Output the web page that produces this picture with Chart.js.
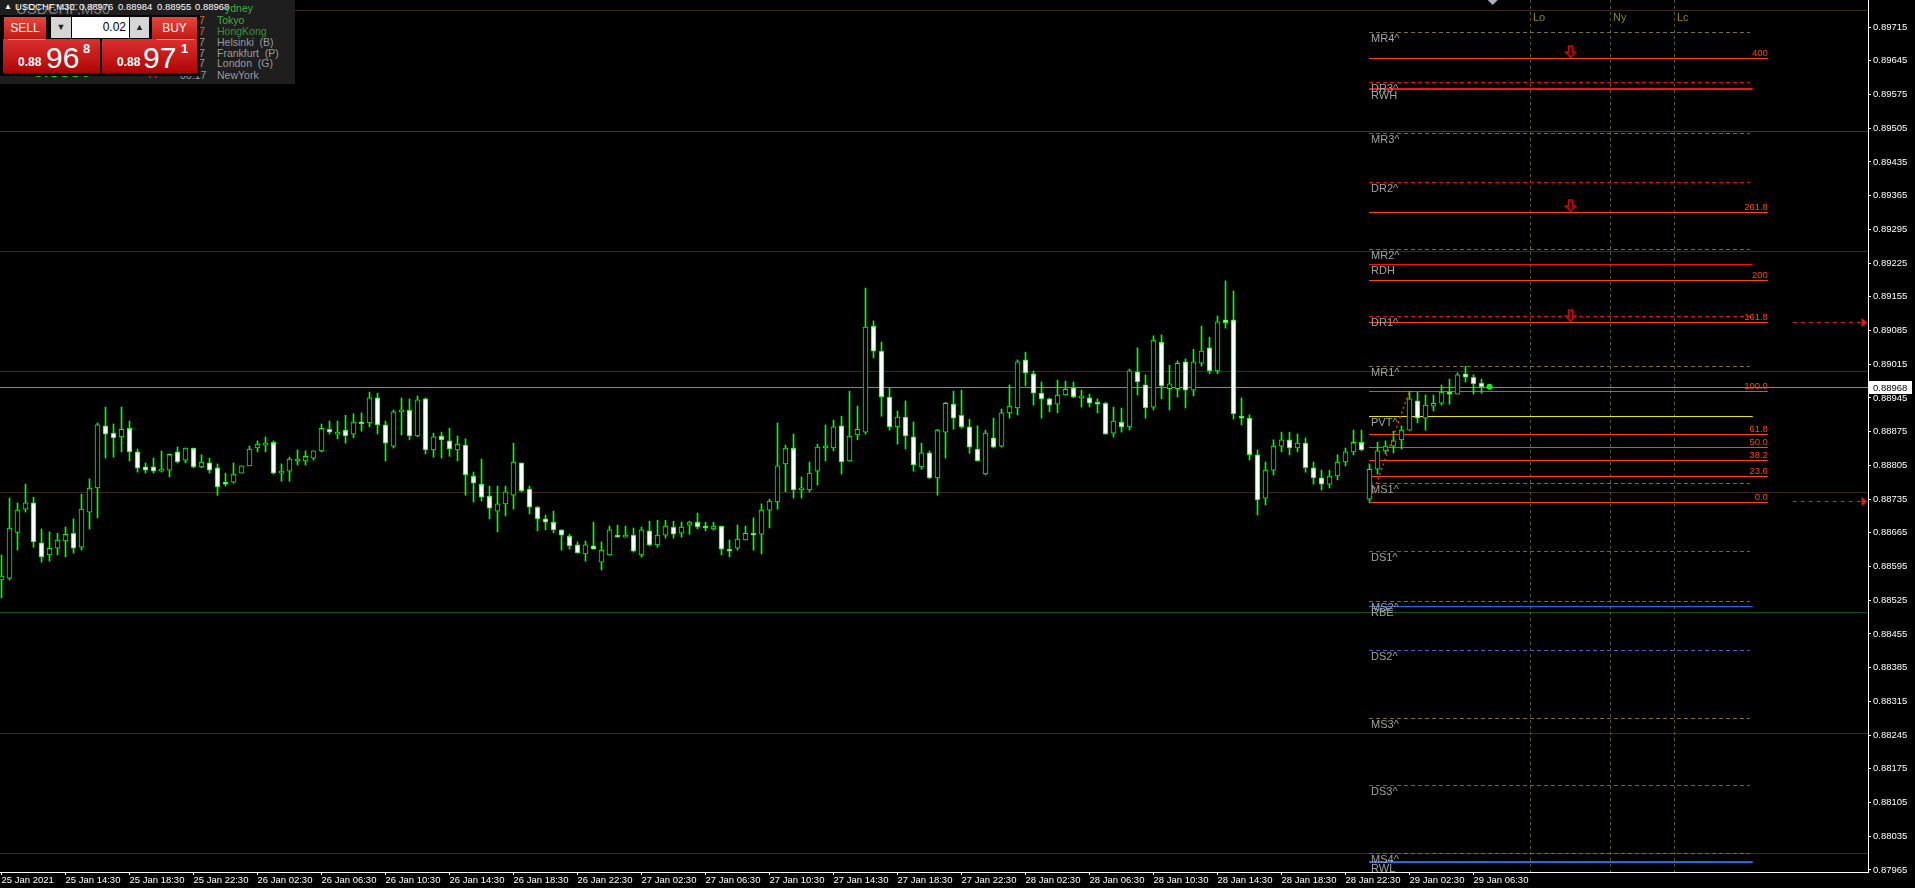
<!DOCTYPE html>
<html>
<head>
<meta charset="utf-8">
<title>USDCHF,M30</title>
<script src="https://cdn.jsdelivr.net/npm/chart.js@4.4.0/dist/chart.umd.min.js"></script>
<style>
  html, body { margin: 0; padding: 0; background: #000; overflow: hidden; }
  #wrap { position: relative; width: 1915px; height: 888px; font-family: "Liberation Sans", Arial, sans-serif; }
  #chart { position: absolute; left: 0; top: 0; }
  #panel { position: absolute; left: 0; top: 0; width: 295px; height: 84px; background: #1e1e1e; overflow: hidden; }
  .abs { position: absolute; white-space: nowrap; }
  .sess { font-size: 10.5px; color: #9a9a9a; }
  .red { background: linear-gradient(#e8453c, #c01a16); color: #fff; }
  .big { background: linear-gradient(#dc3030, #ad0505); }
  .btn { font-size: 12px; text-align: center; line-height: 22px; }
  .spin { background: #d6d6d6; font-size: 9px; text-align: center; line-height: 21px; color: #222; }
</style>
</head>
<body>
<div id="wrap">
  <canvas id="chart" width="1915" height="888"></canvas>
  <div id="panel">
    <div class="abs" style="left:16px;top:0px;font-size:15px;color:#7a7a7a;">USDCHF,M30</div>
    <div class="abs" style="left:4px;top:2px;font-size:8px;color:#fff;">▲</div>
    <div class="abs" style="left:15px;top:1px;font-size:9.5px;color:#fff;">USDCHF,M30</div>
    <div class="abs" style="left:79px;top:1px;font-size:9.5px;color:#fff;">0.88976</div>
    <div class="abs" style="left:118px;top:1px;font-size:9.5px;color:#fff;">0.88984</div>
    <div class="abs" style="left:157px;top:1px;font-size:9.5px;color:#fff;">0.88955</div>
    <div class="abs" style="left:195px;top:1px;font-size:9.5px;color:#fff;">0.88968</div>

    <div class="abs sess" style="left:225px;top:2px;color:#3cae3c;">ydney</div>
    <div class="abs sess" style="left:217px;top:14px;color:#3cae3c;">Tokyo</div>
    <div class="abs sess" style="left:217px;top:25px;color:#2e9a2e;">HongKong</div>
    <div class="abs sess" style="left:217px;top:36px;">Helsinki&nbsp; (B)</div>
    <div class="abs sess" style="left:217px;top:47px;">Frankfurt&nbsp; (P)</div>
    <div class="abs sess" style="left:217px;top:57px;">London&nbsp; (G)</div>
    <div class="abs sess" style="left:217px;top:69px;">NewYork</div>
    <div class="abs sess" style="left:199px;top:14px;color:#c0702a;">7</div>
    <div class="abs sess" style="left:199px;top:25px;color:#c0702a;">7</div>
    <div class="abs sess" style="left:199px;top:36px;">7</div>
    <div class="abs sess" style="left:199px;top:47px;">7</div>
    <div class="abs sess" style="left:199px;top:57px;">7</div>
    <div class="abs sess" style="left:180px;top:69px;">00:17</div>
    <div class="abs" style="left:148px;top:66px;font-size:13px;color:#e02020;">R</div>
    <div class="abs" style="left:33px;top:60px;font-size:19px;color:#22c822;">0.8880</div>

    <div class="abs" style="left:0;top:15px;width:200px;height:61px;background:#050505;"></div>
    <div class="abs red btn" style="left:4px;top:17px;width:42px;height:22px;">SELL</div>
    <div class="abs spin" style="left:51px;top:17px;width:20px;height:21px;">▼</div>
    <div class="abs" style="left:72px;top:17px;width:54px;height:21px;background:#fff;color:#000;font-size:12px;line-height:21px;text-align:right;padding-right:3px;">0.02</div>
    <div class="abs spin" style="left:130px;top:17px;width:19px;height:21px;">▲</div>
    <div class="abs red btn" style="left:152px;top:17px;width:45px;height:22px;">BUY</div>
    <div class="abs big" style="left:3px;top:39px;width:97px;height:34px;"></div>
    <div class="abs big" style="left:102px;top:39px;width:95px;height:34px;"></div>
    <div class="abs" style="left:8px;top:39px;width:37px;height:1px;background:#f0a0a0;"></div>
    <div class="abs" style="left:157px;top:39px;width:37px;height:1px;background:#f0a0a0;"></div>
    <div class="abs" style="left:18px;top:55px;font-size:12px;font-weight:bold;color:#fff;">0.88</div>
    <div class="abs" style="left:46px;top:41px;font-size:30px;color:#fff;">96</div>
    <div class="abs" style="left:83px;top:41px;font-size:13px;font-weight:bold;color:#fff;">8</div>
    <div class="abs" style="left:117px;top:55px;font-size:12px;font-weight:bold;color:#fff;">0.88</div>
    <div class="abs" style="left:143px;top:41px;font-size:30px;color:#fff;">97</div>
    <div class="abs" style="left:181px;top:41px;font-size:13px;font-weight:bold;color:#fff;">1</div>
  </div>
</div>
<script>
// USDCHF M30 candles, bar 0 = 25 Jan 10:30, one bar every 30 minutes
const timeLabels = ["25 Jan 2021", "25 Jan 14:30", "25 Jan 18:30", "25 Jan 22:30", "26 Jan 02:30", "26 Jan 06:30",
  "26 Jan 10:30", "26 Jan 14:30", "26 Jan 18:30", "26 Jan 22:30", "27 Jan 02:30", "27 Jan 06:30",
  "27 Jan 10:30", "27 Jan 14:30", "27 Jan 18:30", "27 Jan 22:30", "28 Jan 02:30", "28 Jan 06:30",
  "28 Jan 10:30", "28 Jan 14:30", "28 Jan 18:30", "28 Jan 22:30", "29 Jan 02:30", "29 Jan 06:30"];
const timeTicks = [0, 8, 16, 24, 32, 40, 48, 56, 64, 72, 80, 88, 96, 104, 112, 120, 128, 136, 144, 152, 160, 168, 176, 184];

const priceTicks = [0.87965, 0.88035, 0.88105, 0.88175, 0.88245, 0.88315, 0.88385, 0.88455, 0.88525,
  0.88595, 0.88665, 0.88735, 0.88805, 0.88875, 0.88945, 0.89015, 0.89085, 0.89155, 0.89225,
  0.89295, 0.89365, 0.89435, 0.89505, 0.89575, 0.89645, 0.89715];

const opens = [
  0.88567, 0.88571, 0.88666, 0.88714, 0.88727, 0.88644, 0.88619, 0.88633, 0.88648, 0.88664,
  0.88635, 0.88708, 0.88758, 0.88887, 0.88872, 0.88864, 0.88882, 0.88833, 0.88802, 0.88802,
  0.88793, 0.88795, 0.88833, 0.88816, 0.88841, 0.88802, 0.88810, 0.88800, 0.88770, 0.88770,
  0.88789, 0.88804, 0.88841, 0.88847, 0.88853, 0.88789, 0.88793, 0.88814, 0.88814, 0.88820,
  0.88835, 0.88880, 0.88870, 0.88878, 0.88870, 0.88895, 0.88893, 0.88945, 0.88889, 0.88845,
  0.88916, 0.88920, 0.88866, 0.88943, 0.88837, 0.88866, 0.88856, 0.88837, 0.88847, 0.88783,
  0.88766, 0.88741, 0.88710, 0.88725, 0.88743, 0.88810, 0.88756, 0.88718, 0.88694, 0.88687,
  0.88671, 0.88658, 0.88640, 0.88621, 0.88638, 0.88604, 0.88619, 0.88658, 0.88656, 0.88660,
  0.88619, 0.88669, 0.88640, 0.88660, 0.88677, 0.88664, 0.88681, 0.88687, 0.88679, 0.88673,
  0.88679, 0.88629, 0.88633, 0.88650, 0.88664, 0.88662, 0.88712, 0.88729, 0.88808, 0.88841,
  0.88754, 0.88754, 0.88793, 0.88841, 0.88841, 0.88887, 0.88814, 0.88868, 0.88874, 0.89094,
  0.89042, 0.88947, 0.88885, 0.88905, 0.88864, 0.88802, 0.88831, 0.88779, 0.88874, 0.88932,
  0.88909, 0.88885, 0.88839, 0.88787, 0.88862, 0.88845, 0.88914, 0.88924, 0.89024, 0.88995,
  0.88955, 0.88943, 0.88932, 0.88951, 0.88966, 0.88945, 0.88945, 0.88936, 0.88934, 0.88872,
  0.88895, 0.88885, 0.88999, 0.88972, 0.88926, 0.89061, 0.88964, 0.88964, 0.89020, 0.88961,
  0.89017, 0.89049, 0.89001, 0.89107, 0.89107, 0.88907, 0.88903, 0.88827, 0.88737, 0.88795,
  0.88845, 0.88858, 0.88841, 0.88851, 0.88800, 0.88779, 0.88766, 0.88783, 0.88812, 0.88833,
  0.88853, 0.88735, 0.88797, 0.88835, 0.88845, 0.88858, 0.88878, 0.88939, 0.88903, 0.88928,
  0.88934, 0.88957, 0.88953, 0.88995, 0.88988, 0.88976];
const highs = [
  0.88619, 0.88737, 0.88727, 0.88766, 0.88739, 0.88673, 0.88667, 0.88664, 0.88677, 0.88694,
  0.88745, 0.88777, 0.88893, 0.88926, 0.88891, 0.88926, 0.88897, 0.88839, 0.88810, 0.88820,
  0.88835, 0.88829, 0.88843, 0.88841, 0.88841, 0.88827, 0.88820, 0.88808, 0.88789, 0.88810,
  0.88804, 0.88845, 0.88856, 0.88864, 0.88856, 0.88808, 0.88822, 0.88837, 0.88835, 0.88835,
  0.88891, 0.88897, 0.88897, 0.88909, 0.88912, 0.88914, 0.88957, 0.88955, 0.88897, 0.88920,
  0.88945, 0.88943, 0.88949, 0.88945, 0.88872, 0.88874, 0.88882, 0.88866, 0.88860, 0.88791,
  0.88818, 0.88762, 0.88762, 0.88762, 0.88851, 0.88810, 0.88762, 0.88720, 0.88702, 0.88710,
  0.88671, 0.88662, 0.88646, 0.88648, 0.88687, 0.88646, 0.88679, 0.88681, 0.88679, 0.88675,
  0.88677, 0.88689, 0.88691, 0.88691, 0.88689, 0.88687, 0.88689, 0.88706, 0.88687, 0.88687,
  0.88679, 0.88650, 0.88681, 0.88679, 0.88696, 0.88725, 0.88735, 0.88893, 0.88847, 0.88870,
  0.88781, 0.88812, 0.88849, 0.88889, 0.88899, 0.88907, 0.88959, 0.88928, 0.89173, 0.89105,
  0.89061, 0.88966, 0.88918, 0.88939, 0.88895, 0.88851, 0.88835, 0.88880, 0.88936, 0.88959,
  0.88961, 0.88901, 0.88887, 0.88878, 0.88903, 0.88922, 0.88972, 0.89024, 0.89040, 0.89001,
  0.88978, 0.88945, 0.88982, 0.88980, 0.88978, 0.88961, 0.88953, 0.88943, 0.88936, 0.88926,
  0.88924, 0.89005, 0.89049, 0.88993, 0.89074, 0.89076, 0.89013, 0.89022, 0.89026, 0.89046,
  0.89094, 0.89071, 0.89115, 0.89188, 0.89167, 0.88945, 0.88910, 0.88837, 0.88812, 0.88858,
  0.88874, 0.88874, 0.88870, 0.88862, 0.88812, 0.88795, 0.88795, 0.88827, 0.88841, 0.88878,
  0.88878, 0.88808, 0.88853, 0.88856, 0.88876, 0.88887, 0.88959, 0.88957, 0.88951, 0.88951,
  0.88972, 0.88984, 0.88997, 0.89011, 0.88993, 0.88984];
const lows = [
  0.88530, 0.88567, 0.88629, 0.88708, 0.88635, 0.88604, 0.88606, 0.88619, 0.88615, 0.88623,
  0.88629, 0.88673, 0.88696, 0.88820, 0.88822, 0.88833, 0.88814, 0.88791, 0.88789, 0.88789,
  0.88791, 0.88781, 0.88810, 0.88810, 0.88800, 0.88800, 0.88789, 0.88743, 0.88762, 0.88768,
  0.88789, 0.88804, 0.88833, 0.88833, 0.88787, 0.88772, 0.88772, 0.88806, 0.88806, 0.88816,
  0.88833, 0.88870, 0.88860, 0.88851, 0.88862, 0.88876, 0.88885, 0.88870, 0.88814, 0.88841,
  0.88868, 0.88858, 0.88864, 0.88829, 0.88822, 0.88820, 0.88824, 0.88814, 0.88743, 0.88729,
  0.88731, 0.88694, 0.88667, 0.88700, 0.88714, 0.88750, 0.88704, 0.88669, 0.88671, 0.88665,
  0.88629, 0.88631, 0.88623, 0.88606, 0.88631, 0.88588, 0.88619, 0.88656, 0.88656, 0.88625,
  0.88615, 0.88638, 0.88635, 0.88654, 0.88654, 0.88656, 0.88662, 0.88673, 0.88669, 0.88671,
  0.88619, 0.88615, 0.88629, 0.88650, 0.88629, 0.88621, 0.88675, 0.88714, 0.88750, 0.88737,
  0.88737, 0.88750, 0.88764, 0.88814, 0.88835, 0.88787, 0.88814, 0.88858, 0.88870, 0.89028,
  0.88907, 0.88878, 0.88849, 0.88839, 0.88793, 0.88797, 0.88777, 0.88743, 0.88820, 0.88880,
  0.88882, 0.88830, 0.88814, 0.88785, 0.88841, 0.88843, 0.88903, 0.88910, 0.88970, 0.88930,
  0.88903, 0.88916, 0.88914, 0.88951, 0.88945, 0.88926, 0.88926, 0.88914, 0.88870, 0.88864,
  0.88874, 0.88878, 0.88951, 0.88903, 0.88920, 0.88943, 0.88920, 0.88947, 0.88924, 0.88949,
  0.89011, 0.88995, 0.88995, 0.89090, 0.88901, 0.88889, 0.88816, 0.88702, 0.88723, 0.88785,
  0.88833, 0.88827, 0.88833, 0.88791, 0.88766, 0.88754, 0.88758, 0.88775, 0.88804, 0.88827,
  0.88835, 0.88727, 0.88787, 0.88829, 0.88831, 0.88839, 0.88878, 0.88893, 0.88878, 0.88918,
  0.88930, 0.88932, 0.88953, 0.88978, 0.88953, 0.88955];
const closes = [
  0.88575, 0.88675, 0.88712, 0.88727, 0.88646, 0.88615, 0.88633, 0.88650, 0.88662, 0.88633,
  0.88714, 0.88758, 0.88889, 0.88870, 0.88862, 0.88880, 0.88833, 0.88799, 0.88795, 0.88793,
  0.88795, 0.88828, 0.88812, 0.88841, 0.88802, 0.88812, 0.88795, 0.88760, 0.88766, 0.88787,
  0.88804, 0.88839, 0.88849, 0.88851, 0.88789, 0.88793, 0.88818, 0.88818, 0.88824, 0.88835,
  0.88882, 0.88874, 0.88874, 0.88866, 0.88895, 0.88891, 0.88945, 0.88889, 0.88851, 0.88916,
  0.88918, 0.88866, 0.88941, 0.88837, 0.88864, 0.88858, 0.88839, 0.88849, 0.88785, 0.88768,
  0.88739, 0.88716, 0.88725, 0.88750, 0.88812, 0.88752, 0.88718, 0.88694, 0.88687, 0.88671,
  0.88660, 0.88638, 0.88623, 0.88640, 0.88631, 0.88629, 0.88671, 0.88656, 0.88660, 0.88627,
  0.88671, 0.88640, 0.88660, 0.88679, 0.88662, 0.88677, 0.88687, 0.88677, 0.88675, 0.88679,
  0.88631, 0.88627, 0.88652, 0.88664, 0.88660, 0.88712, 0.88731, 0.88804, 0.88841, 0.88754,
  0.88758, 0.88789, 0.88843, 0.88845, 0.88885, 0.88812, 0.88866, 0.88880, 0.89092, 0.89042,
  0.88947, 0.88885, 0.88905, 0.88866, 0.88806, 0.88831, 0.88779, 0.88878, 0.88934, 0.88903,
  0.88885, 0.88843, 0.88814, 0.88872, 0.88843, 0.88914, 0.88928, 0.89020, 0.88997, 0.88955,
  0.88943, 0.88930, 0.88951, 0.88963, 0.88947, 0.88947, 0.88934, 0.88932, 0.88870, 0.88897,
  0.88885, 0.89001, 0.88978, 0.88924, 0.89065, 0.88970, 0.88974, 0.89017, 0.88961, 0.89020,
  0.89042, 0.89001, 0.89103, 0.89101, 0.88912, 0.88903, 0.88827, 0.88733, 0.88795, 0.88845,
  0.88858, 0.88841, 0.88851, 0.88800, 0.88779, 0.88766, 0.88783, 0.88812, 0.88833, 0.88853,
  0.88837, 0.88797, 0.88835, 0.88845, 0.88856, 0.88878, 0.88943, 0.88903, 0.88930, 0.88934,
  0.88957, 0.88953, 0.88993, 0.88988, 0.88974, 0.88968];

const currentPrice = 0.88968;
const currentBar = 186;

// pivot / range levels drawn from the start of 29 Jan
const levelNames = ["MR4^", "DR3^", "RWH", "MR3^", "DR2^", "MR2^", "RDH", "DR1^", "MR1^", "PVT^",
  "MS1^", "DS1^", "MS2^", "RBE", "DS2^", "MS3^", "DS3^", "MS4^", "RWL"];
const levelPrices = [0.89704, 0.89600, 0.89587, 0.89496, 0.89393, 0.89254, 0.89222, 0.89115, 0.89011, 0.88907,
  0.88768, 0.88627, 0.88523, 0.88514, 0.88421, 0.88280, 0.88141, 0.88000, 0.87982];

// fibonacci levels
const fibLabels = ["0.0", "23.6", "38.2", "50.0", "61.8", "100.0", "161.8", "200", "261.8", "400"];
const fibPrices = [0.88729, 0.88783, 0.88817, 0.88844, 0.88871, 0.88959, 0.89102, 0.89189, 0.89332, 0.89651];
const arrowPrices = [0.89651, 0.89332, 0.89102];
const targetPrices = [0.89102, 0.88730];
const swingBars = [171, 176];
const swingPrices = [0.88727, 0.88959];

// round numbers
const roundPrices = [0.8975, 0.8950, 0.8925, 0.8900, 0.8875, 0.8850, 0.8825, 0.8800];
const roundKinds = ["q", "h", "q", "f", "q", "h", "q", "f"];

const sessionNames = ["Lo", "Ny", "Lc"];
const sessionBars = [191, 201, 209];

// ---- styles ----
const GREEN = "#00ff00";
const roundColors = { q: "#3c2a1e", h: "#124e12", f: "#2a2a5e" };
const LEVEL_START = 170.94, DASH_END = 218.55, SOLID_END = 218.9, FIB_END = 220.8;
const TARGET_START = 223.9, TARGET_END = 233.0, ARROW_BAR = 196;
const levelStyle = {
  MR: { color: "#72722a", dash: [4, 3], width: 1, end: DASH_END },
  MS: { color: "#72722a", dash: [4, 3], width: 1, end: DASH_END },
  DR: { color: "#dd1414", dash: [4, 3], width: 1, end: DASH_END },
  DS: { color: "#5a52c8", dash: [4, 3], width: 1, end: DASH_END },
  RWH: { color: "#ff1010", dash: [], width: 2, end: SOLID_END },
  RDH: { color: "#ff1010", dash: [], width: 1, end: SOLID_END },
  RBE: { color: "#1a6ee6", dash: [], width: 1, end: SOLID_END },
  RWL: { color: "#1a6ee6", dash: [], width: 2, end: SOLID_END },
  PVT: { color: "#e6e600", dash: [], width: 1, end: SOLID_END }
};
function styleFor(name) {
  if (name.startsWith("PVT")) return levelStyle.PVT;
  if (name.startsWith("R")) return levelStyle[name];
  return levelStyle[name.slice(0, 2)];
}

function hline(ctx, x0, x1, py, color, width, dash) {
  ctx.beginPath();
  ctx.strokeStyle = color;
  ctx.lineWidth = width;
  ctx.setLineDash(dash || []);
  const yy = width % 2 ? Math.round(py) + 0.5 : Math.round(py);
  ctx.moveTo(x0, yy);
  ctx.lineTo(x1, yy);
  ctx.stroke();
}

const levelsPlugin = {
  id: "levels",
  beforeDatasetsDraw(chart) {
    const { ctx, chartArea: a, scales: { x, y } } = chart;
    ctx.save();
    roundPrices.forEach((p, k) => hline(ctx, a.left, a.right, y.getPixelForValue(p), roundColors[roundKinds[k]], 1));

    sessionBars.forEach((b) => {
      const px = Math.round(x.getPixelForValue(b)) + 0.5;
      ctx.beginPath();
      ctx.strokeStyle = "#55551c";
      ctx.lineWidth = 1;
      ctx.setLineDash([3, 3]);
      ctx.moveTo(px, a.top);
      ctx.lineTo(px, a.bottom);
      ctx.stroke();
    });

    hline(ctx, a.left, a.right, y.getPixelForValue(currentPrice), "#7f8a96", 1);

    const x0 = x.getPixelForValue(LEVEL_START);
    levelNames.forEach((n, k) => {
      const s = styleFor(n);
      hline(ctx, x0, x.getPixelForValue(s.end), y.getPixelForValue(levelPrices[k]), s.color, s.width, s.dash);
    });
    fibPrices.forEach((p) => hline(ctx, x0, x.getPixelForValue(FIB_END), y.getPixelForValue(p), "#ff4500", 1));

    targetPrices.forEach((p) => {
      const py = y.getPixelForValue(p);
      const xe = x.getPixelForValue(TARGET_END);
      hline(ctx, x.getPixelForValue(TARGET_START), xe - 3, py, "#e01818", 1, [4, 4]);
      ctx.setLineDash([]);
      ctx.fillStyle = "#e01818";
      ctx.beginPath();
      ctx.moveTo(xe - 4, Math.round(py) - 4);
      ctx.lineTo(xe + 2, Math.round(py) + 0.5);
      ctx.lineTo(xe - 4, Math.round(py) + 5);
      ctx.closePath();
      ctx.fill();
    });
    ctx.restore();
  },
  afterDatasetsDraw(chart) {
    const { ctx, chartArea: a, scales: { x, y } } = chart;
    ctx.save();
    ctx.setLineDash([]);
    const x0 = x.getPixelForValue(LEVEL_START);
    ctx.font = "11px 'Liberation Sans', Arial, sans-serif";
    ctx.fillStyle = "#a2a2a2";
    ctx.textBaseline = "top";
    ctx.textAlign = "left";
    levelNames.forEach((n, k) => {
      ctx.fillText(n, x0 + 2, Math.round(y.getPixelForValue(levelPrices[k])) + 1);
    });

    ctx.font = "9.5px 'Liberation Sans', Arial, sans-serif";
    ctx.fillStyle = "#ff4500";
    ctx.textAlign = "right";
    ctx.textBaseline = "alphabetic";
    const xf = x.getPixelForValue(FIB_END);
    fibLabels.forEach((t, k) => ctx.fillText(t, xf, Math.round(y.getPixelForValue(fibPrices[k])) - 2));

    ctx.font = "11px 'Liberation Sans', Arial, sans-serif";
    ctx.fillStyle = "#8a8a12";
    ctx.textAlign = "left";
    ctx.textBaseline = "top";
    sessionBars.forEach((b, k) => ctx.fillText(sessionNames[k], Math.round(x.getPixelForValue(b)) + 3, a.top + 12));

    // down arrows above the upper fib levels
    const ax = Math.round(x.getPixelForValue(ARROW_BAR)) + 0.5;
    ctx.strokeStyle = "#e00000";
    ctx.lineWidth = 1.5;
    arrowPrices.forEach((p) => {
      const tip = Math.round(y.getPixelForValue(p)) - 1;
      ctx.beginPath();
      ctx.moveTo(ax - 2, tip - 11);
      ctx.lineTo(ax + 2, tip - 11);
      ctx.lineTo(ax + 2, tip - 5);
      ctx.lineTo(ax + 5, tip - 5);
      ctx.lineTo(ax, tip);
      ctx.lineTo(ax - 5, tip - 5);
      ctx.lineTo(ax - 2, tip - 5);
      ctx.closePath();
      ctx.stroke();
    });

    // chart shift marker
    const sx = x.getPixelForValue(currentBar + 0.4);
    ctx.fillStyle = "#a8b2c2";
    ctx.beginPath();
    ctx.moveTo(sx - 5, a.top);
    ctx.lineTo(sx + 5, a.top);
    ctx.lineTo(sx, a.top + 5);
    ctx.closePath();
    ctx.fill();
    ctx.restore();
  },
  afterDraw(chart) {
    const { ctx, chartArea: a, scales: { y } } = chart;
    const py = Math.round(y.getPixelForValue(currentPrice));
    ctx.save();
    ctx.fillStyle = "#ffffff";
    ctx.fillRect(a.right + 1, py - 6, 43, 13);
    ctx.fillStyle = "#000000";
    ctx.font = "9.5px 'Liberation Sans', Arial, sans-serif";
    ctx.textBaseline = "middle";
    ctx.textAlign = "left";
    ctx.fillText(currentPrice.toFixed(5), a.right + 5, py + 1);
    ctx.restore();
  }
};

const bars = opens.map((_, i) => i);
const wickData = bars.map((i) => ({ x: i, y: [lows[i], highs[i]] }));
const bodyData = bars.map((i) => ({ x: i, y: [opens[i], closes[i]] }));
const bodyFill = bars.map((i) => (closes[i] > opens[i] ? "#000000" : "#ffffff"));

const axisFont = { family: "'Liberation Sans', Arial, sans-serif", size: 9.5 };

new Chart(document.getElementById("chart"), {
  type: "bar",
  data: {
    datasets: [
      {
        type: "line",
        data: swingBars.map((b, k) => ({ x: b, y: swingPrices[k] })),
        borderColor: "#ff2a2a",
        borderWidth: 1.5,
        borderDash: [2, 3],
        pointRadius: 0,
        order: 0
      },
      {
        type: "scatter",
        data: [{ x: currentBar, y: currentPrice }],
        pointRadius: 3,
        pointBackgroundColor: GREEN,
        pointBorderWidth: 0,
        order: 0
      },
      {
        data: wickData,
        backgroundColor: GREEN,
        borderWidth: 0,
        barThickness: 1,
        grouped: false,
        order: 2
      },
      {
        data: bodyData,
        backgroundColor: bodyFill,
        borderColor: GREEN,
        borderWidth: 1,
        borderSkipped: false,
        barThickness: 5,
        minBarLength: 2,
        grouped: false,
        order: 1
      }
    ]
  },
  options: {
    responsive: false,
    animation: false,
    events: [],
    layout: { padding: 0, autoPadding: false },
    plugins: { legend: { display: false }, tooltip: { enabled: false } },
    scales: {
      x: {
        type: "linear",
        position: "bottom",
        min: -0.1875,
        max: 233.3125,
        offset: false,
        bounds: "data",
        afterBuildTicks: (s) => { s.ticks = timeTicks.map((v) => ({ value: v })); },
        afterFit: (s) => { s.height = 16; s.paddingLeft = 0; s.paddingRight = 0; },
        ticks: {
          autoSkip: false,
          maxRotation: 0,
          align: "start",
          padding: 0,
          color: "#ffffff",
          font: axisFont,
          callback: (v) => timeLabels[timeTicks.indexOf(v)]
        },
        grid: { drawOnChartArea: false, offset: false, tickLength: 3, color: "#ffffff" },
        border: { color: "#ffffff", width: 1 }
      },
      y: {
        type: "linear",
        position: "right",
        min: 0.879608,
        max: 0.897711,
        beginAtZero: false,
        bounds: "data",
        afterBuildTicks: (s) => { s.ticks = priceTicks.map((v) => ({ value: v })); },
        afterFit: (s) => { s.width = 47; s.paddingTop = 0; s.paddingBottom = 0; },
        ticks: {
          autoSkip: false,
          padding: 2,
          color: "#ffffff",
          font: axisFont,
          callback: (v) => v.toFixed(5)
        },
        grid: { drawOnChartArea: false, tickLength: 3, color: "#ffffff" },
        border: { color: "#ffffff", width: 1 }
      }
    }
  },
  plugins: [levelsPlugin]
});
</script>
</body>
</html>
